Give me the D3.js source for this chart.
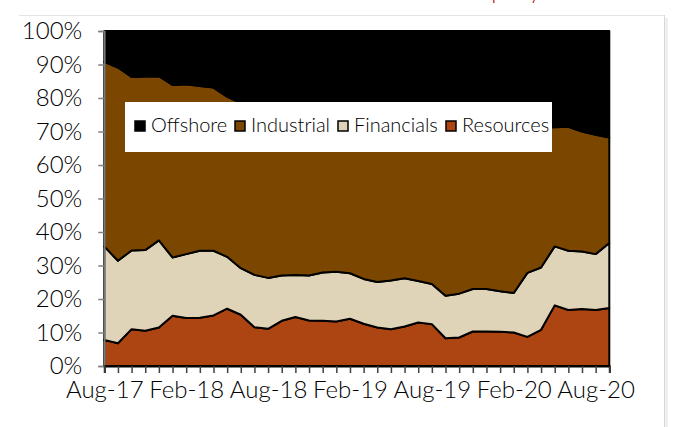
<!DOCTYPE html>
<html>
<head>
<meta charset="utf-8">
<script src="https://cdn.jsdelivr.net/npm/d3@7"></script>
<style>
  body { margin: 0; background: #fff; }
  text { font-family: Lato, "Open Sans", sans-serif; font-weight: 300; }
</style>
</head>
<body>
<script>
const width = 675, height = 427;

// monthly categories Aug-17 .. Sep-20
const months = d3.timeMonth.range(new Date(2017, 7, 1), new Date(2020, 9, 1));
const fmt = d3.timeFormat("%b-%y");
const tickLabels = ["Aug-17","Feb-18","Aug-18","Feb-19","Aug-19","Feb-20","Aug-20"];

// shares in %
const resources = [7.8,6.8,11.0,10.5,11.5,15.0,14.3,14.4,15.1,17.1,15.3,11.6,11.1,13.5,14.6,13.6,13.5,13.3,14.1,12.6,
  11.5,11.0,11.8,13.0,12.5,8.3,8.5,10.3,10.3,10.2,10.0,8.7,10.8,18.1,16.7,17.0,16.7,17.3];
const financials = [27.9,24.6,23.5,24.1,26.0,17.4,19.1,20.0,19.3,15.5,13.9,15.6,15.2,13.5,12.6,13.4,14.4,14.8,13.6,13.4,
  13.6,14.5,14.4,12.4,12.0,12.7,13.1,12.7,12.7,12.1,11.8,19.1,18.6,17.6,17.7,17.2,16.7,19.4];
const industrial = [55.1,57.7,51.8,51.8,49.0,51.5,50.7,49.2,48.7,47.8,49.3,49.8,49.7,48.5,47.8,47.5,46.1,45.4,45.8,47.0,
  47.4,47.0,45.8,46.6,47.0,50.5,49.4,48.0,48.0,48.7,49.2,43.4,41.9,35.6,37.0,35.8,35.6,31.5];
const offshore = [9.2,10.9,13.7,13.6,13.5,16.1,15.9,16.4,16.9,19.6,21.5,23.0,24.0,24.5,25.0,25.5,26.0,26.5,26.5,27.0,
  27.5,27.5,28.0,28.0,28.5,28.5,29.0,29.0,29.0,29.0,29.0,28.8,28.7,28.7,28.6,30.0,31.0,31.8];

const keys = ["Resources","Financials","Industrial","Offshore"];
const colors = {Resources:"#ad4513", Financials:"#dfd3b8", Industrial:"#7b4700", Offshore:"#000000"};

const table = months.map((m, i) => ({
  month: fmt(m),
  Resources: resources[i], Financials: financials[i], Industrial: industrial[i], Offshore: offshore[i]
}));

const svg = d3.select("body").append("svg")
  .attr("width", width).attr("height", height);

// frame (top and right edge with a soft shadow)
svg.append("rect").attr("x", 664).attr("y", 18).attr("width", 4).attr("height", 420)
  .attr("fill", "#efefef");
svg.append("line").attr("x1", 19).attr("x2", 664).attr("y1", 15.5).attr("y2", 15.5)
  .attr("stroke", "#e4e4e4");
svg.append("line").attr("x1", 664.5).attr("x2", 664.5).attr("y1", 15).attr("y2", 427)
  .attr("stroke", "#d8d8d8");

// cut-off title
svg.append("text").attr("x", 541).attr("y", -1).attr("text-anchor", "end")
  .attr("font-size", 24).attr("font-weight", 400).attr("fill", "#c00000").text("company");

const x = d3.scalePoint()
  .domain(table.map(d => d.month))
  .range([104.3, 609.3]);

const y = d3.scaleLinear()
  .domain([0, 1])
  .range([366, 31]);

const series = d3.stack().keys(keys).offset(d3.stackOffsetExpand)(table);

const area = d3.area()
  .x(d => x(d.data.month))
  .y0(d => y(d[0]))
  .y1(d => y(d[1]));

svg.append("g").selectAll("path")
  .data(series)
  .enter()
  .append("path")
  .attr("d", area)
  .attr("fill", d => colors[d.key])
  .attr("stroke", "#000")
  .attr("stroke-width", 2)
  .attr("stroke-linejoin", "round");

// y axis
const yAxis = svg.append("g")
  .attr("transform", "translate(104.3,0)")
  .call(d3.axisLeft(y)
    .tickValues(d3.range(0, 1.01, 0.1))
    .tickFormat(d3.format(".0%"))
    .tickSize(6)
    .tickPadding(16));
yAxis.select(".domain").attr("stroke", "#808080").attr("stroke-width", 1.5);
yAxis.selectAll(".tick line").attr("stroke", "#808080").attr("stroke-width", 1.5);
yAxis.selectAll("text").attr("font-size", 24).attr("fill", "#000")
  .attr("font-family", "Lato, 'Open Sans', sans-serif");

// x axis
const xAxis = svg.append("g")
  .attr("transform", "translate(0,366)")
  .call(d3.axisBottom(x)
    .tickFormat(d => tickLabels.includes(d) ? d : "")
    .tickSize(7)
    .tickPadding(8));
xAxis.select(".domain").attr("stroke", "#000").attr("stroke-width", 2);
xAxis.selectAll(".tick line").attr("stroke", "#404040").attr("stroke-width", 1.5);
xAxis.selectAll("text").attr("font-size", 24).attr("fill", "#000")
  .attr("font-family", "Lato, 'Open Sans', sans-serif");

// legend
const legend = svg.append("g");
legend.append("rect").attr("x", 125).attr("y", 102).attr("width", 427).attr("height", 50)
  .attr("fill", "#fff");
const legendItems = [
  {key: "Offshore", x: 135},
  {key: "Industrial", x: 235},
  {key: "Financials", x: 338},
  {key: "Resources", x: 446}
];
const li = legend.selectAll(".li").data(legendItems).enter().append("g")
  .attr("transform", d => `translate(${d.x},121)`);
li.append("rect").attr("width", 10).attr("height", 10)
  .attr("fill", d => colors[d.key]).attr("stroke", "#000").attr("stroke-width", 1.5);
li.append("text").attr("x", 16).attr("y", 11)
  .attr("font-size", 20).attr("fill", "#000").text(d => d.key);
</script>
</body>
</html>
